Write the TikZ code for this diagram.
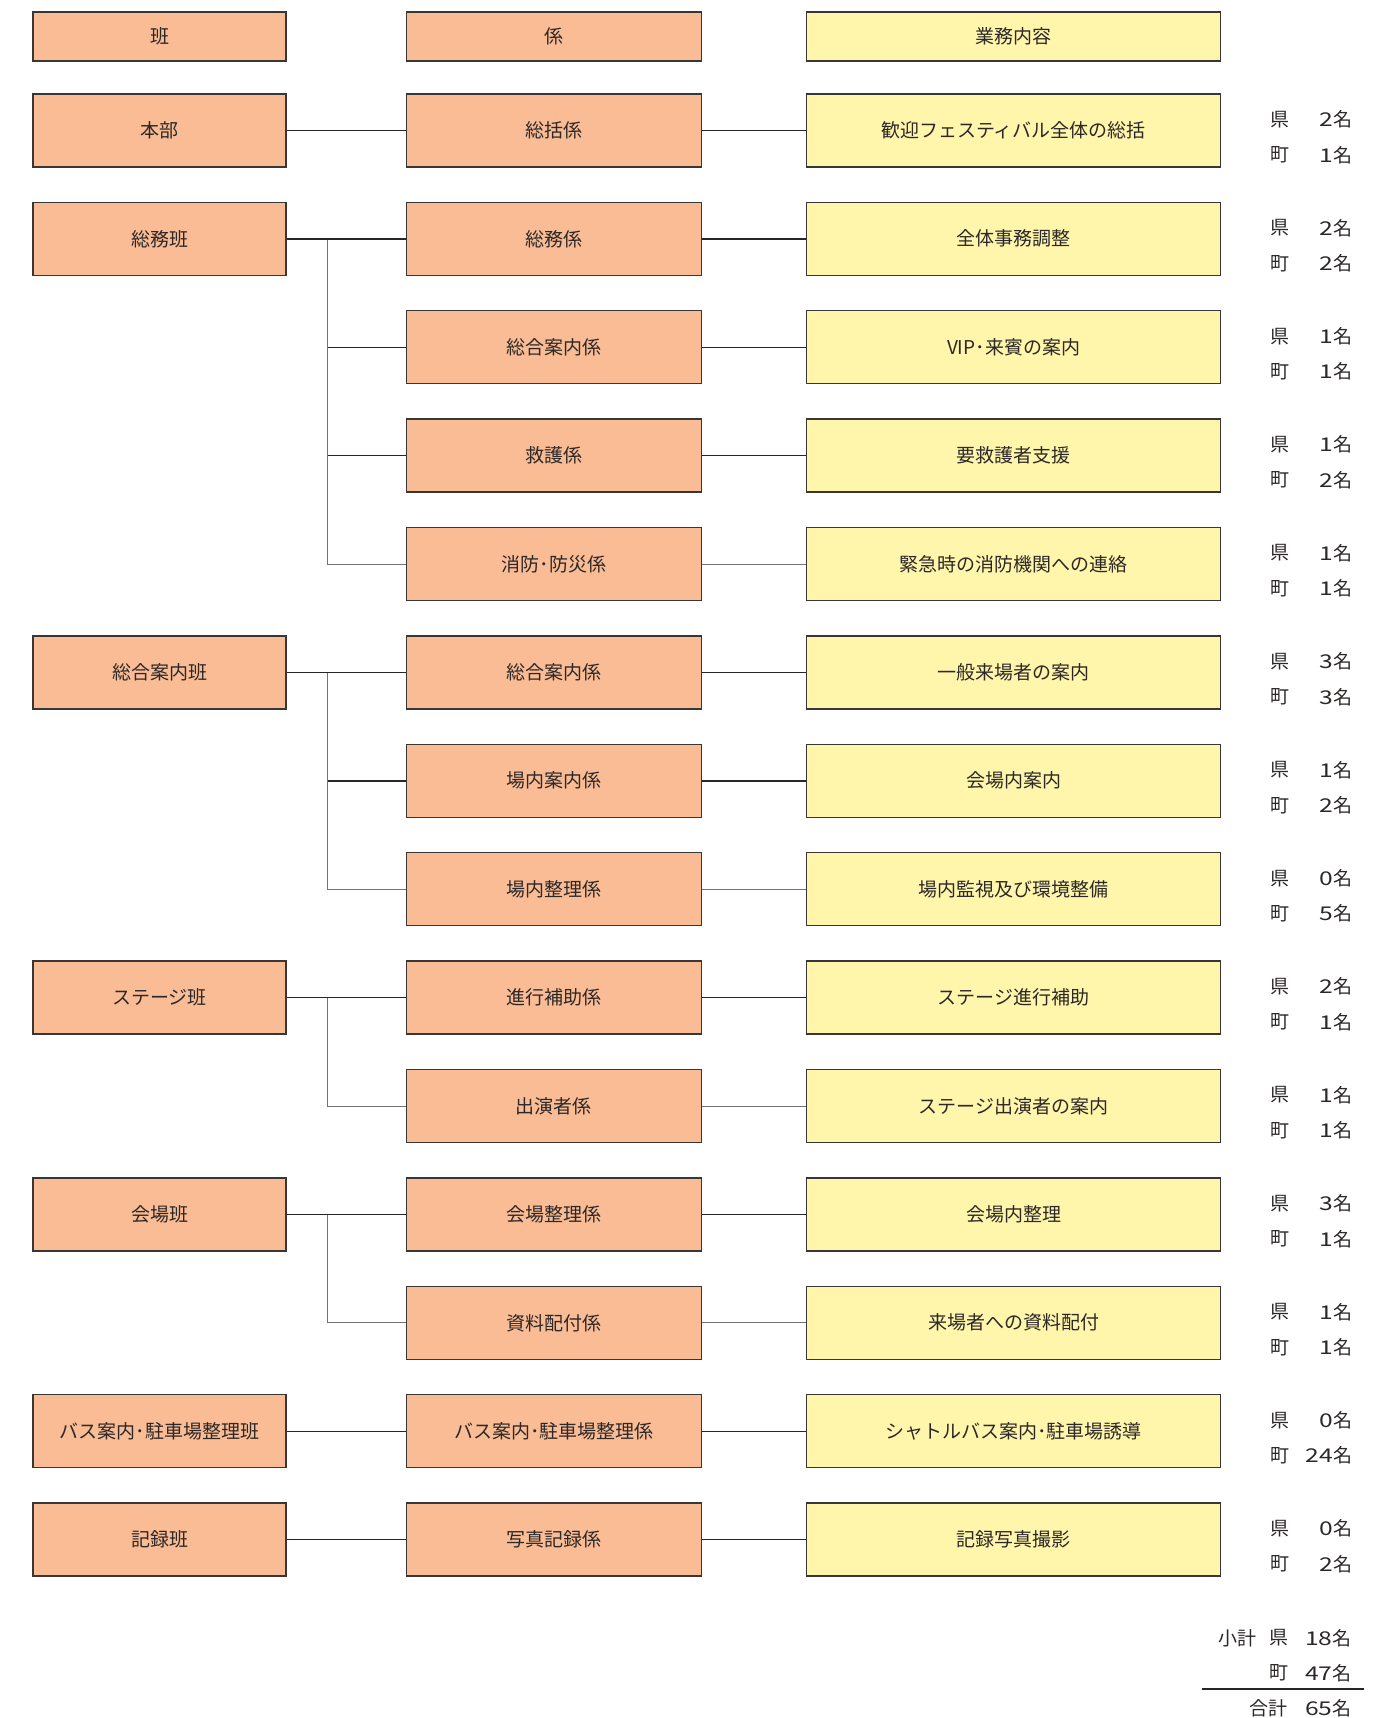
\documentclass[tikz,border=0pt]{standalone}
\usepackage{fontspec}
\usepackage{graphicx}
\setmainfont{Noto Sans CJK JP}
\usetikzlibrary{calc}
\definecolor{hanfill}{RGB}{249,188,148}
\definecolor{gyomufill}{RGB}{255,246,172}
\definecolor{waku}{RGB}{58,54,54}
\definecolor{moji}{RGB}{45,40,40}
\tikzstyle{box}=[draw=waku, line width=0.75pt, text=moji, inner sep=0pt,
  minimum height=36.5pt, font=\fontsize{9.5pt}{11pt}\selectfont]
\tikzstyle{han}=[box, fill=hanfill, minimum width=126.5pt]
\tikzstyle{kakari}=[box, fill=hanfill, minimum width=147.4pt]
\tikzstyle{gyomu}=[box, fill=gyomufill, minimum width=207.1pt]
\tikzstyle{midashi}=[minimum height=24.5pt]
\tikzstyle{ninzu}=[text=moji, inner sep=0pt, font=\fontsize{9.5pt}{11pt}\selectfont]
\tikzstyle{link}=[draw=black!85, line width=0.7pt]
\tikzstyle{edaline}=[draw=black!55, line width=0.5pt]
\newcommand{\kazu}[1]{\scalebox{1.3}[1]{#1}}
\newcommand{\han}[2]{node (h#1) [han] {#2}}
\newcommand{\kakari}[2]{node (k#1) [kakari] {#2}}
\newcommand{\gyomu}[2]{node (g#1) [gyomu] {#2}}
\newcommand{\ninzu}[3]{%
  % 県 and 町 counts to the right of the task box
  \path (g#1.east)+(48.4,-11) node (ken#1) [ninzu, anchor=west] {県};
  \path (g#1.east)+(131.4,-11) node (kn#1) [ninzu, anchor=east] {\kazu{#2}名};
  \path (g#1.east)+(48.4,24.5) node (cho#1) [ninzu, anchor=west] {町};
  \path (g#1.east)+(131.4,24.5) node (cn#1) [ninzu, anchor=east] {\kazu{#3}名};}

\begin{document}
\begin{tikzpicture}[x=0.5pt,y=-0.5pt]
  \useasboundingbox (0,0) rectangle (1397,1718);

  % headings
  \path (159.5,36.7) node (hh) [han, midashi] {班};
  \path (553.9,36.7) node (kh) [kakari, midashi] {係};
  \path (1013.5,36.7) node (gh) [gyomu, midashi] {業務内容};

  % 係 column
  \path (553.9,130.4) \kakari{1}{総括係};
  \path (k1)+(0,108.4) \kakari{2}{総務係};
  \path (k2)+(0,108.4) \kakari{3}{総合案内係};
  \path (k3)+(0,108.4) \kakari{4}{救護係};
  \path (k4)+(0,108.4) \kakari{5}{消防･防災係};
  \path (k5)+(0,108.4) \kakari{6}{総合案内係};
  \path (k6)+(0,108.4) \kakari{7}{場内案内係};
  \path (k7)+(0,108.4) \kakari{8}{場内整理係};
  \path (k8)+(0,108.4) \kakari{9}{進行補助係};
  \path (k9)+(0,108.4) \kakari{10}{出演者係};
  \path (k10)+(0,108.4) \kakari{11}{会場整理係};
  \path (k11)+(0,108.4) \kakari{12}{資料配付係};
  \path (k12)+(0,108.4) \kakari{13}{バス案内･駐車場整理係};
  \path (k13)+(0,108.4) \kakari{14}{写真記録係};

  % 班 column
  \path (k1)+(-394.4,0) \han{1}{本部};
  \path (k2)+(-394.4,0) \han{2}{総務班};
  \path (k6)+(-394.4,0) \han{6}{総合案内班};
  \path (k9)+(-394.4,0) \han{9}{ステージ班};
  \path (k11)+(-394.4,0) \han{11}{会場班};
  \path (k13)+(-394.4,0) \han{13}{バス案内･駐車場整理班};
  \path (k14)+(-394.4,0) \han{14}{記録班};

  % 業務内容 column
  \path (k1)+(459.6,0) \gyomu{1}{歓迎フェスティバル全体の総括};
  \path (k2)+(459.6,0) \gyomu{2}{全体事務調整};
  \path (k3)+(459.6,0) \gyomu{3}{VIP･来賓の案内};
  \path (k4)+(459.6,0) \gyomu{4}{要救護者支援};
  \path (k5)+(459.6,0) \gyomu{5}{緊急時の消防機関への連絡};
  \path (k6)+(459.6,0) \gyomu{6}{一般来場者の案内};
  \path (k7)+(459.6,0) \gyomu{7}{会場内案内};
  \path (k8)+(459.6,0) \gyomu{8}{場内監視及び環境整備};
  \path (k9)+(459.6,0) \gyomu{9}{ステージ進行補助};
  \path (k10)+(459.6,0) \gyomu{10}{ステージ出演者の案内};
  \path (k11)+(459.6,0) \gyomu{11}{会場内整理};
  \path (k12)+(459.6,0) \gyomu{12}{来場者への資料配付};
  \path (k13)+(459.6,0) \gyomu{13}{シャトルバス案内･駐車場誘導};
  \path (k14)+(459.6,0) \gyomu{14}{記録写真撮影};

  \ninzu{1}{2}{1}
  \ninzu{2}{2}{2}
  \ninzu{3}{1}{1}
  \ninzu{4}{1}{2}
  \ninzu{5}{1}{1}
  \ninzu{6}{3}{3}
  \ninzu{7}{1}{2}
  \ninzu{8}{0}{5}
  \ninzu{9}{2}{1}
  \ninzu{10}{1}{1}
  \ninzu{11}{3}{1}
  \ninzu{12}{1}{1}
  \ninzu{13}{0}{24}
  \ninzu{14}{0}{2}

  % branch points
  \path (h2.east)+(41,0) coordinate (b2);
  \path (h6.east)+(41,0) coordinate (b6);
  \path (h9.east)+(41,0) coordinate (b9);
  \path (h11.east)+(41,0) coordinate (b11);

  \draw [edaline] (b2) |- (k5);
  \draw [edaline] (b6) |- (k8);
  \draw [edaline] (b9) |- (k10);
  \draw [edaline] (b11) |- (k12);

  \draw [link] (h1) -- (k1);
  \draw [link] (h2) -- (k2);
  \draw [link] (b2 |- k3) -- (k3);
  \draw [link] (b2 |- k4) -- (k4);
  \draw [link] (h6) -- (k6);
  \draw [link] (b6 |- k7) -- (k7);
  \draw [link] (h9) -- (k9);
  \draw [link] (h11) -- (k11);
  \draw [link] (h13) -- (k13);
  \draw [link] (h14) -- (k14);

  \draw [link] (k1) -- (g1);
  \draw [link] (k2) -- (g2);
  \draw [link] (k3) -- (g3);
  \draw [link] (k4) -- (g4);
  \draw [edaline] (k5) -- (g5);
  \draw [link] (k6) -- (g6);
  \draw [link] (k7) -- (g7);
  \draw [edaline] (k8) -- (g8);
  \draw [link] (k9) -- (g9);
  \draw [edaline] (k10) -- (g10);
  \draw [link] (k11) -- (g11);
  \draw [edaline] (k12) -- (g12);
  \draw [link] (k13) -- (g13);
  \draw [link] (k14) -- (g14);

  % totals
  \path (1218,1638) node (shokei) [ninzu, anchor=west] {小計};
  \path (1269,1638) node (sken) [ninzu, anchor=west] {県};
  \path (1352,1638) node (skn) [ninzu, anchor=east] {\kazu{18}名};
  \path (1269,1673) node (scho) [ninzu, anchor=west] {町};
  \path (1352,1673) node (scn) [ninzu, anchor=east] {\kazu{47}名};
  \coordinate (sen1) at (1202,1689);
  \coordinate (sen2) at (1364,1689);
  \draw [link, line width=1pt] (sen1) -- (sen2);
  \path (1249,1708) node (gokei) [ninzu, anchor=west] {合計};
  \path (1352,1708) node (gkn) [ninzu, anchor=east] {\kazu{65}名};
\end{tikzpicture}
\end{document}
